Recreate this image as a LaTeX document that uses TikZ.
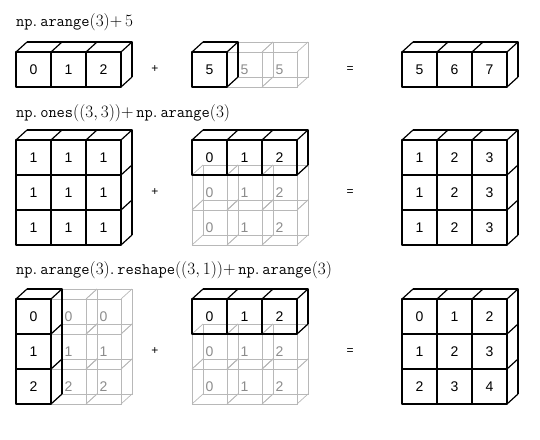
\documentclass[tikz,border=0pt]{standalone}
\usepackage{fontspec}
\setsansfont{Liberation Sans}
\newcommand{\gcube}[2]{%
  \draw[ghostline] (#1,#2) rectangle ++(35,35);
  \draw[ghostline] (#1+11,#2-10) rectangle ++(35,35);
  \draw[ghostline] (#1,#2) -- ++(11,-10) (#1+35,#2) -- ++(11,-10)
                   (#1,#2+35) -- ++(11,-10) (#1+35,#2+35) -- ++(11,-10);
}
% solid array: x, y, ncols, nrows
\newcommand{\sarray}[4]{%
  \draw[cubeline] (#1,#2) rectangle ++(#3*35,#4*35);
  \foreach \ci in {1,...,#3}{\ifnum\ci<#3 \draw[cubeline] (#1+\ci*35,#2) -- ++(0,#4*35);\fi}
  \foreach \ri in {1,...,#4}{\ifnum\ri<#4 \draw[cubeline] (#1,#2+\ri*35) -- ++(#3*35,0);\fi}
  \draw[cubeline] (#1+11,#2-10) -- ++(#3*35,0) -- ++(0,#4*35);
  \foreach \ci in {0,...,#3}{\draw[cubeline] (#1+\ci*35,#2) -- ++(11,-10);}
  \foreach \ri in {1,...,#4}{\draw[cubeline] (#1+#3*35,#2+\ri*35) -- ++(11,-10);}
}
\newcommand{\pl}{\mathord{+}\,}
\begin{document}
\begin{tikzpicture}[x=1pt,y=-1pt,
  cubeline/.style={line width=1.2pt, black, line join=round},
  ghostline/.style={line width=0.7pt, black!28},
  val/.style={font=\sffamily\fontsize{14}{14}\selectfont, inner sep=0pt},
  gval/.style={val, text=black!45},
  lbl/.style={anchor=west, inner sep=0pt, font=\fontsize{16}{16}\selectfont},
  op/.style={font=\sffamily\fontsize{12}{12}\selectfont, inner sep=0pt}]
\useasboundingbox (0,0) rectangle (540,439);

% ---------- Row 1 ----------
\node[lbl] (l1) at (16,22) {$\mathtt{np.}\,\mathtt{arange}(3)\pl 5$};
\sarray{16}{52}{3}{1}
\node[val] (a10) at (33.5,69.5) {0};
\node[val] (a11) at (68.5,69.5) {1};
\node[val] (a12) at (103.5,69.5) {2};
\node[op] (p1) at (155,69.5) {+};
\gcube{227}{52}
\gcube{262}{52}
\sarray{192}{52}{1}{1}
\node[val] (b10) at (209.5,69.5) {5};
\node[gval] (b11) at (244.5,69.5) {5};
\node[gval] (b12) at (279.5,69.5) {5};
\node[op] (e1) at (350,69.5) {=};
\sarray{402}{52}{3}{1}
\node[val] (c10) at (419.5,69.5) {5};
\node[val] (c11) at (454.5,69.5) {6};
\node[val] (c12) at (489.5,69.5) {7};

% ---------- Row 2 ----------
\node[lbl] (l2) at (16,113) {$\mathtt{np.}\,\mathtt{ones}((3,3))\pl\mathtt{np.}\,\mathtt{arange}(3)$};
\sarray{16}{140}{3}{3}
\foreach \r in {0,1,2}{\foreach \c in {0,1,2}{
  \node[val] (a2\r\c) at (33.5+\c*35,157.5+\r*35) {1};}}
\node[op] (p2) at (155,192.5) {+};
\foreach \r in {1,2}{\foreach \c in {0,1,2}{\gcube{192+\c*35}{140+\r*35}}}
\sarray{192}{140}{3}{1}
\foreach \c in {0,1,2}{\node[val] (b20\c) at (209.5+\c*35,157.5) {\c};}
\foreach \r in {1,2}{\foreach \c in {0,1,2}{
  \node[gval] (b2\r\c) at (209.5+\c*35,157.5+\r*35) {\c};}}
\node[op] (e2) at (350,192.5) {=};
\sarray{402}{140}{3}{3}
\foreach \r in {0,1,2}{\foreach \c/\v in {0/1,1/2,2/3}{
  \node[val] (c2\r\c) at (419.5+\c*35,157.5+\r*35) {\v};}}

% ---------- Row 3 ----------
\node[lbl] (l3) at (16,270) {$\mathtt{np.}\,\mathtt{arange}(3)\mathtt{.}\,\mathtt{reshape}((3,1))\pl\mathtt{np.}\,\mathtt{arange}(3)$};
\foreach \r in {0,1,2}{\foreach \c in {1,2}{\gcube{16+\c*35}{299+\r*35}}}
\sarray{16}{299}{1}{3}
\foreach \r in {0,1,2}{\node[val] (a3\r0) at (33.5,316.5+\r*35) {\r};}
\foreach \r in {0,1,2}{\foreach \c in {1,2}{
  \node[gval] (a3\r\c) at (33.5+\c*35,316.5+\r*35) {\r};}}
\node[op] (p3) at (155,351.5) {+};
\foreach \r in {1,2}{\foreach \c in {0,1,2}{\gcube{192+\c*35}{299+\r*35}}}
\sarray{192}{299}{3}{1}
\foreach \c in {0,1,2}{\node[val] (b30\c) at (209.5+\c*35,316.5) {\c};}
\foreach \r in {1,2}{\foreach \c in {0,1,2}{
  \node[gval] (b3\r\c) at (209.5+\c*35,316.5+\r*35) {\c};}}
\node[op] (e3) at (350,351.5) {=};
\sarray{402}{299}{3}{3}
\foreach \r in {0,1,2}{\foreach \c in {0,1,2}{
  \pgfmathtruncatemacro{\v}{\r+\c}
  \node[val] (c3\r\c) at (419.5+\c*35,316.5+\r*35) {\v};}}
\end{tikzpicture}
\end{document}
